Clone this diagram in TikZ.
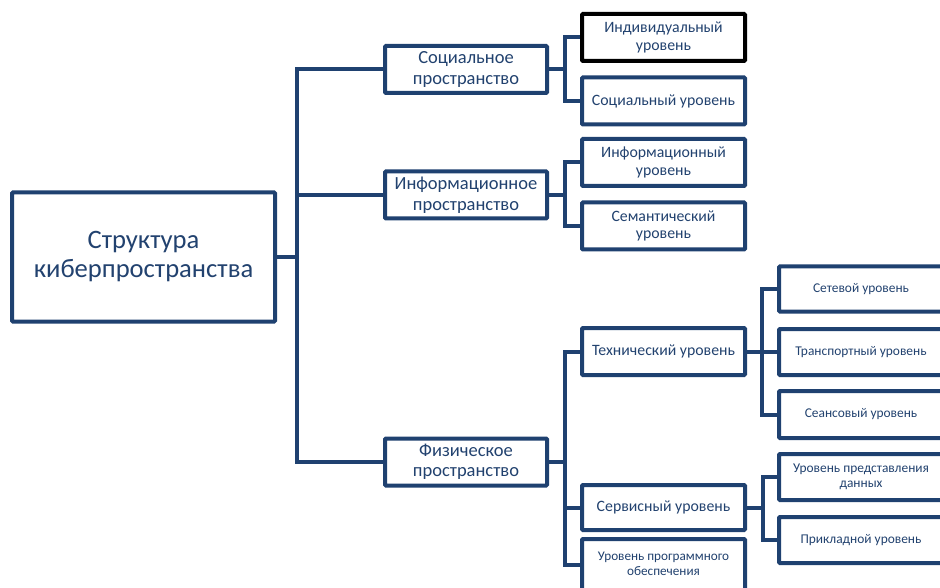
\documentclass[tikz,border=0pt]{standalone}
\usepackage{fontspec}
\setmainfont{Carlito}
\definecolor{linec}{HTML}{1F4170}
\definecolor{textc}{HTML}{22426F}
\begin{document}
\begin{tikzpicture}[x=1pt,y=-1pt,
  box/.style={draw=linec, line width=4pt, rounded corners=1pt, fill=white,
    text=textc, align=center, inner sep=0pt},
  rootbox/.style={box, minimum width=263pt, minimum height=129pt, font=\fontsize{26.6}{29}\selectfont},
  lvtwo/.style={box, minimum width=162pt, minimum height=47pt, font=\fontsize{18.5}{20.5}\selectfont},
  lvthree/.style={box, minimum width=163pt, minimum height=47pt, font=\fontsize{15.8}{17.5}\selectfont},
  lvfour/.style={box, minimum width=164pt, minimum height=46pt, font=\fontsize{13.4}{15.5}\selectfont},
  conn/.style={draw=linec, line width=4pt, line join=miter}]
\useasboundingbox (0,0) rectangle (940,588);
\clip (0,0) rectangle (940,588);
% root
\node[rootbox] (root) at (143.5,257) {Структура\\киберпространства};
% level 2
\node[lvtwo] (soc) at (466,69.5) {Социальное\\пространство};
\node[lvtwo] (inf) at (466,195) {Информационное\\пространство};
\node[lvtwo] (phy) at (466,462) {Физическое\\пространство};
% level 3
\node[lvthree, draw=black] (ind) at (663.5,37.5) {Индивидуальный\\уровень};
\node[lvthree] (socl) at (663.5,101) {Социальный уровень};
\node[lvthree] (infl) at (663.5,162.5) {Информационный\\уровень};
\node[lvthree] (sem) at (663.5,226) {Семантический\\уровень};
\node[lvthree] (tech) at (663.5,351.5) {Технический уровень};
\node[lvthree, minimum height=45pt] (serv) at (663.5,507.5) {Сервисный уровень};
\node[lvthree, minimum height=52pt, font=\fontsize{13.2}{15}\selectfont, text depth=0pt] (soft) at (663.5,565) {\raisebox{12pt}{\begin{tabular}{@{}c@{}}Уровень программного\\обеспечения\end{tabular}}};
% level 4
\node[lvfour, minimum height=45pt] (net) at (861,289) {Сетевой уровень};
\node[lvfour] (trans) at (861,352) {Транспортный уровень};
\node[lvfour, minimum height=47pt] (sess) at (861,414.5) {Сеансовый уровень};
\node[lvfour] (data) at (861,477) {Уровень представления\\данных};
\node[lvfour] (appl) at (861,540) {Прикладной уровень};
% connectors
\foreach \c in {soc,inf,phy} \draw[conn] (root.east) -- ++(20,0) |- (\c.west);
\foreach \c in {ind,socl} \draw[conn] (soc.east) -- ++(16,0) |- (\c.west);
\foreach \c in {infl,sem} \draw[conn] (inf.east) -- ++(16,0) |- (\c.west);
\foreach \c in {tech,serv,soft} \draw[conn] (phy.east) -- ++(16,0) |- (\c.west);
\foreach \c in {net,trans,sess} \draw[conn] (tech.east) -- ++(15,0) |- (\c.west);
\foreach \c in {data,appl} \draw[conn] (serv.east) -- ++(16,0) |- (\c.west);
\end{tikzpicture}
\end{document}
